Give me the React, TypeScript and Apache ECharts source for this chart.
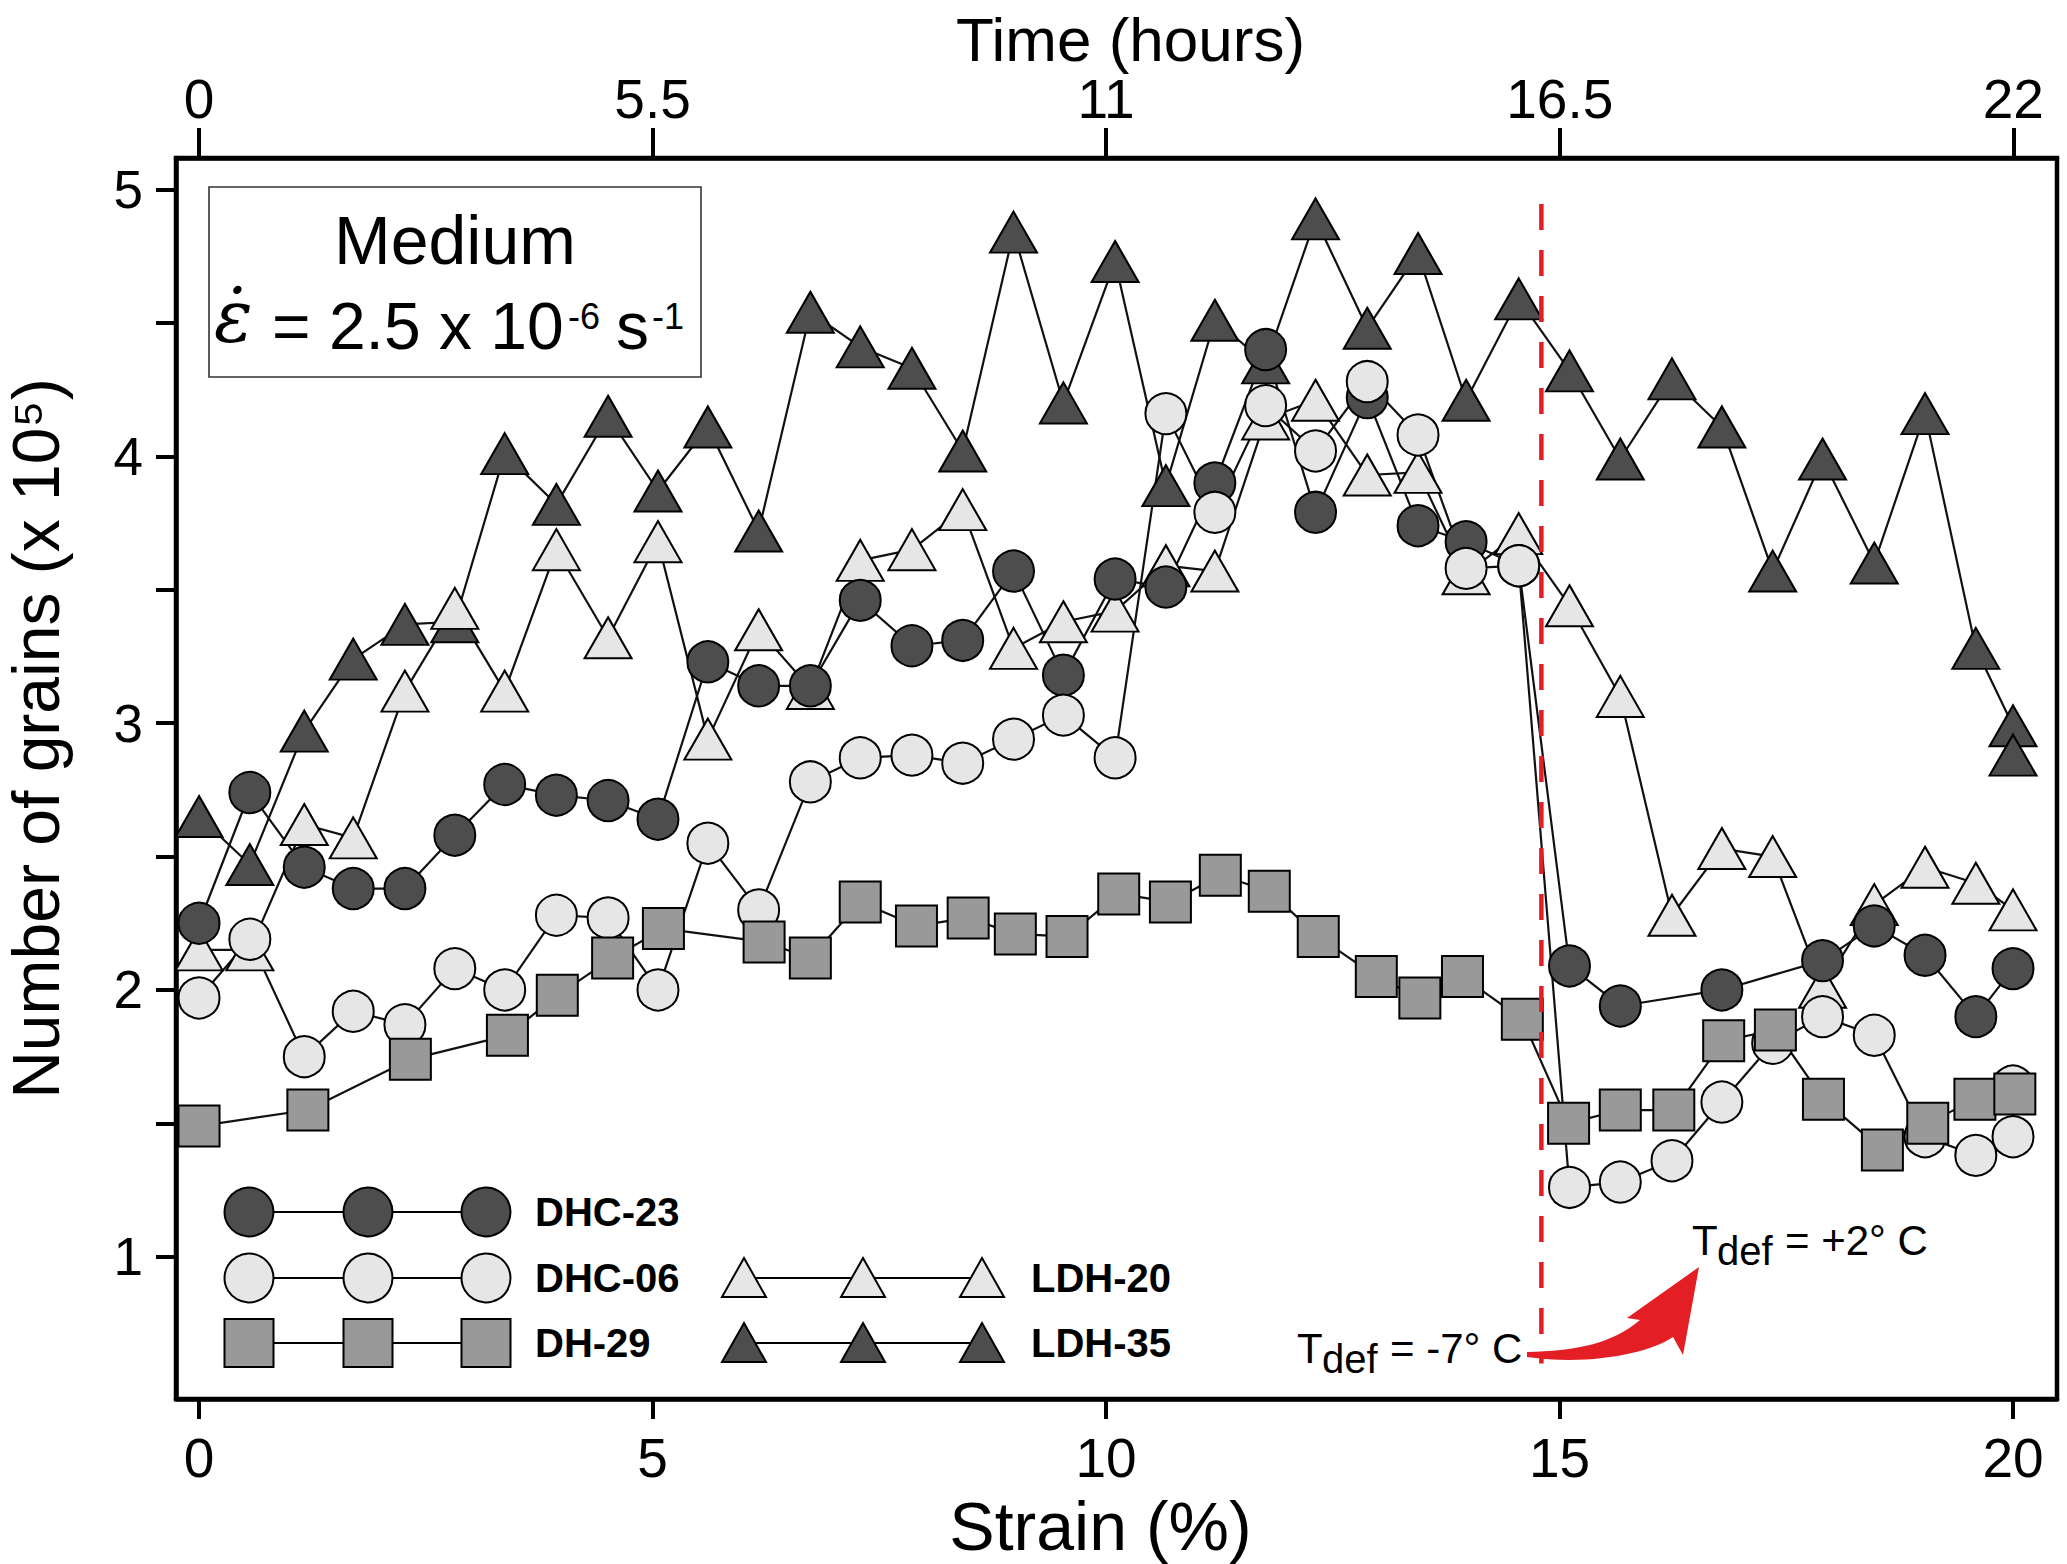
import { useEffect, useRef } from "react";
import * as echarts from "echarts";

// tick values
const strainTicks = [0, 5, 10, 15, 20];
const timeTicks = [0, 5.5, 11, 16.5, 22];
const grainTicks = [1, 1.5, 2, 2.5, 3, 3.5, 4, 4.5, 5];
const grainLabels = [1, 2, 3, 4, 5];

// DHC-23 (dark circles)
const dhc23Strain = [
  0, 0.56, 1.16, 1.7, 2.27, 2.82, 3.37, 3.94, 4.51, 5.06, 5.61, 6.17, 6.74, 7.29, 7.86, 8.42, 8.98,
  9.53, 10.1, 10.66, 11.2, 11.76, 12.31, 12.88, 13.44, 13.97, 14.55, 15.11, 15.67, 16.79, 17.9,
  18.47, 19.03, 19.59, 20.0,
];
const dhc23Grains = [
  2.25, 2.74, 2.46, 2.38, 2.38, 2.58, 2.77, 2.73, 2.71, 2.64, 3.23, 3.14, 3.14, 3.46, 3.29, 3.31,
  3.57, 3.18, 3.54, 3.51, 3.9, 4.4, 3.79, 4.22, 3.74, 3.68, 3.59, 2.09, 1.94, 2.0, 2.11, 2.24, 2.13,
  1.9, 2.08,
];

// DHC-06 (light circles)
const dhc06Strain = [
  0, 0.56, 1.16, 1.7, 2.27, 2.82, 3.37, 3.94, 4.51, 5.06, 5.61, 6.17, 6.74, 7.29, 7.86, 8.42, 8.98,
  9.53, 10.1, 10.66, 11.2, 11.76, 12.31, 12.88, 13.44, 13.97, 14.55, 15.11, 15.67, 16.24, 16.79,
  17.35, 17.9, 18.47, 19.03, 19.59, 20.0, 20.0,
];
const dhc06Grains = [
  1.97, 2.19, 1.75, 1.92, 1.87, 2.08, 2.0, 2.28, 2.27, 2.0, 2.55, 2.3, 2.78, 2.87, 2.88, 2.85, 2.94,
  3.03, 2.87, 4.16, 3.79, 4.19, 4.02, 4.28, 4.08, 3.58, 3.59, 1.26, 1.28, 1.36, 1.58, 1.8, 1.9,
  1.83, 1.45, 1.38, 1.45, 1.64,
];

// DH-29 (grey squares)
const dh29Strain = [
  0, 1.2, 2.33, 3.4, 3.95, 4.56, 5.12, 6.23, 6.74, 7.29, 7.91, 8.48, 9.0, 9.57, 10.14, 10.71, 11.26,
  11.8, 12.34, 12.98, 13.46, 13.93, 14.59, 15.1, 15.67, 16.26, 16.81, 17.38, 17.91, 18.56, 19.06,
  19.58, 20.02,
];
const dh29Grains = [
  1.49, 1.55, 1.74, 1.83, 1.98, 2.12, 2.23, 2.18, 2.12, 2.33, 2.24, 2.27, 2.21, 2.2, 2.36, 2.33,
  2.43, 2.37, 2.2, 2.05, 1.97, 2.05, 1.89, 1.5, 1.55, 1.55, 1.81, 1.85, 1.59, 1.4, 1.5, 1.59, 1.61,
];

// LDH-20 (light triangles)
const ldh20Strain = [
  0, 0.56, 1.16, 1.7, 2.27, 2.82, 3.37, 3.94, 4.51, 5.06, 5.61, 6.17, 6.74, 7.29, 7.86, 8.42, 8.98,
  9.53, 10.1, 10.66, 11.2, 11.76, 12.31, 12.88, 13.44, 13.97, 14.55, 15.11, 15.67, 16.24, 16.79,
  17.35, 17.9, 18.47, 19.03, 19.59, 20.0,
];
const ldh20Grains = [
  2.15, 2.15, 2.62, 2.57, 3.12, 3.43, 3.12, 3.65, 3.32, 3.68, 2.94, 3.35, 3.13, 3.61, 3.65, 3.8,
  3.28, 3.38, 3.42, 3.59, 3.57, 4.14, 4.21, 3.93, 3.94, 3.56, 3.71, 3.44, 3.1, 2.28, 2.53, 2.5, 2.01,
  2.32, 2.46, 2.4, 2.3,
];

// LDH-35 (dark triangles)
const ldh35Strain = [
  0, 0.56, 1.16, 1.7, 2.27, 2.82, 3.37, 3.94, 4.51, 5.06, 5.61, 6.17, 6.74, 7.29, 7.86, 8.42, 8.98,
  9.53, 10.1, 10.66, 11.2, 11.76, 12.31, 12.88, 13.44, 13.97, 14.55, 15.11, 15.67, 16.24, 16.79,
  17.35, 17.9, 18.47, 19.03, 19.59, 20.0, 20.0,
];
const ldh35Grains = [
  2.65, 2.47, 2.97, 3.24, 3.37, 3.38, 4.01, 3.82, 4.15, 3.87, 4.11, 3.72, 4.54, 4.41, 4.33, 4.02,
  4.84, 4.2, 4.73, 3.89, 4.51, 4.35, 4.89, 4.48, 4.76, 4.21, 4.59, 4.32, 3.99, 4.29, 4.11, 3.57,
  3.99, 3.6, 4.16, 3.28, 2.99, 2.88,
];

// temperature change marker
const tChangeStrain = [14.8, 14.8];
const tChangeGrains = [4.946, 0.6];

const FONT = "'Liberation Sans', Arial, Helvetica, sans-serif";
const DARK = "#4d4d4d";
const LIGHT = "#e6e6e6";
const MID = "#999999";

const arrowPath =
  "M27 132 C75 131 112 124 140 100 L127 98 L199 47 L183 135 L173 117 C150 133 90 146 27 137 Z";

echarts.graphic.registerShape("tempArrow", echarts.graphic.extendPath(arrowPath, {}));

const pairs = (xs: number[], ys: number[]) => xs.map((x, i) => [x, ys[i]]);

const makeSeries = (
  name: string,
  xs: number[],
  ys: number[],
  symbol: string,
  symbolSize: number | number[],
  fill: string
) => ({
  name,
  type: "line",
  data: pairs(xs, ys),
  symbol,
  symbolSize,
  showAllSymbol: true,
  clip: false,
  lineStyle: { color: "#111", width: 2.2 },
  itemStyle: { color: fill, borderColor: "#000", borderWidth: 2 },
});

const txt = (
  x: number,
  y: number,
  text: string,
  fontSize: number,
  extra: Record<string, unknown> = {}
) => ({
  type: "text",
  x,
  y,
  z: 100,
  style: {
    text,
    fontSize,
    fontFamily: FONT,
    fill: "#000",
    align: "left",
    verticalAlign: "middle",
    textAlign: "left",
    textVerticalAlign: "middle",
    ...extra,
  },
});

const legendRow = (xs: number[], y: number, kind: string, fill: string, label: string) => {
  const els: any[] = [
    {
      type: "line",
      z: 100,
      shape: { x1: xs[0], y1: y, x2: xs[2], y2: y },
      style: { stroke: "#000", lineWidth: 2.2 },
    },
  ];
  xs.forEach((cx) => {
    const style = { fill, stroke: "#000", lineWidth: 2 };
    if (kind === "circle") {
      els.push({ type: "circle", z: 101, shape: { cx, cy: y, r: 24.5 }, style });
    } else if (kind === "rect") {
      els.push({ type: "rect", z: 101, shape: { x: cx - 24.5, y: y - 24, width: 49, height: 48 }, style });
    } else {
      els.push({
        type: "polygon",
        z: 101,
        shape: { points: [[cx, y - 20], [cx + 22, y + 19], [cx - 22, y + 19]] },
        style,
      });
    }
  });
  els.push(txt(xs[2] + 49, y, label, 40, { fontWeight: "bold" }));
  return els;
};

const GrainsChart = () => {
  const chartRef = useRef<HTMLDivElement>(null);

  useEffect(() => {
    if (!chartRef.current) return;
    const chart = echarts.init(chartRef.current, null, { renderer: "svg" });

    const axisLine = { show: true, onZero: false, lineStyle: { color: "#000", width: 4.5 } };
    const labelStyle = { color: "#000", fontSize: 55, fontFamily: FONT };

    const option = {
      animation: false,
      backgroundColor: "#fff",
      grid: {
        left: 176,
        right: 10,
        top: 158,
        bottom: 165,
        containLabel: false,
        outerBoundsMode: "none",
        show: true,
        borderColor: "#000",
        borderWidth: 4.5,
      },
      xAxis: [
        {
          type: "value",
          position: "bottom",
          min: -0.254,
          max: 20.485,
          name: "Strain (%)",
          nameLocation: "middle",
          nameGap: 93,
          nameTextStyle: { fontSize: 68, color: "#000", fontFamily: FONT, padding: [0, 32, 0, 0] },
          axisLine,
          axisTick: { show: true, length: 20, customValues: strainTicks, lineStyle: { color: "#000", width: 4 } },
          axisLabel: { ...labelStyle, margin: 31, customValues: strainTicks },
          splitLine: { show: false },
        },
        {
          type: "value",
          position: "top",
          min: -0.279,
          max: 22.53,
          name: "Time (hours)",
          nameLocation: "middle",
          nameGap: 88,
          nameMoveOverlap: false,
          nameTextStyle: { fontSize: 62, color: "#000", fontFamily: FONT, padding: [0, 0, 0, 28] },
          axisLine,
          axisTick: { show: true, length: 30, customValues: timeTicks, lineStyle: { color: "#000", width: 4 } },
          axisLabel: { ...labelStyle, margin: 32, customValues: timeTicks },
          splitLine: { show: false },
        },
      ],
      yAxis: {
        type: "value",
        min: 0.467,
        max: 5.118,
        name: "Number of grains (x 10⁵)",
        nameLocation: "middle",
        nameGap: 107,
        nameTextStyle: { fontSize: 66, color: "#000", fontFamily: FONT, padding: [0, 0, 0, 80] },
        axisLine,
        axisTick: { show: true, length: 20, customValues: grainTicks, lineStyle: { color: "#000", width: 4 } },
        axisLabel: { ...labelStyle, fontSize: 53, margin: 33, customValues: grainLabels },
        splitLine: { show: false },
      },
      series: [
        makeSeries("LDH-35", ldh35Strain, ldh35Grains, "triangle", [47, 41], DARK),
        makeSeries("LDH-20", ldh20Strain, ldh20Grains, "triangle", [47, 41], LIGHT),
        makeSeries("DHC-23", dhc23Strain, dhc23Grains, "circle", 41, DARK),
        makeSeries("DHC-06", dhc06Strain, dhc06Grains, "circle", 41, LIGHT),
        makeSeries("DH-29", dh29Strain, dh29Grains, "rect", 41, MID),
        {
          name: "T change",
          type: "line",
          data: pairs(tChangeStrain, tChangeGrains),
          symbol: "none",
          clip: false,
          z: 10,
          lineStyle: { color: "#e31e24", width: 4.5, type: [26, 20] },
        },
      ],
      graphic: [
        {
          type: "rect",
          z: 99,
          shape: { x: 209, y: 187, width: 492, height: 190 },
          style: { fill: "#fff", stroke: "#333", lineWidth: 1.6 },
        },
        txt(455, 240, "Medium", 68, { align: "center", textAlign: "center" }),
        txt(214, 317, "ε̇", 72, { fontFamily: "'DejaVu Serif', serif", fontStyle: "italic" }),
        txt(272, 326, "= 2.5 x 10", 66),
        txt(568, 316, "-6", 36),
        txt(616, 326, "s", 66),
        txt(652, 316, "-1", 36),
        ...legendRow([249, 368, 486], 1212, "circle", DARK, "DHC-23"),
        ...legendRow([249, 368, 486], 1278, "circle", LIGHT, "DHC-06"),
        ...legendRow([249, 368, 486], 1343, "rect", MID, "DH-29"),
        ...legendRow([744, 863, 982], 1278, "triangle", LIGHT, "LDH-20"),
        ...legendRow([744, 863, 982], 1343, "triangle", DARK, "LDH-35"),
        txt(1297, 1348, "T", 42),
        txt(1322, 1359, "def", 40),
        txt(1390, 1348, "= -7° C", 42),
        txt(1692, 1240, "T", 42),
        txt(1717, 1251, "def", 40),
        txt(1785, 1240, "= +2° C", 42),
        {
          type: "tempArrow",
          x: 1500,
          y: 1220,
          z: 98,
          style: { fill: "#e31e24", stroke: "none" },
        },
      ],
    };

    chart.setOption(option);

    return () => {
      chart.dispose();
    };
  }, []);

  return (
    <div
      ref={chartRef}
      style={{ position: "fixed", left: 0, top: 0, width: 2067, height: 1564, background: "#fff" }}
    />
  );
};

export default function App() {
  return <GrainsChart />;
}
